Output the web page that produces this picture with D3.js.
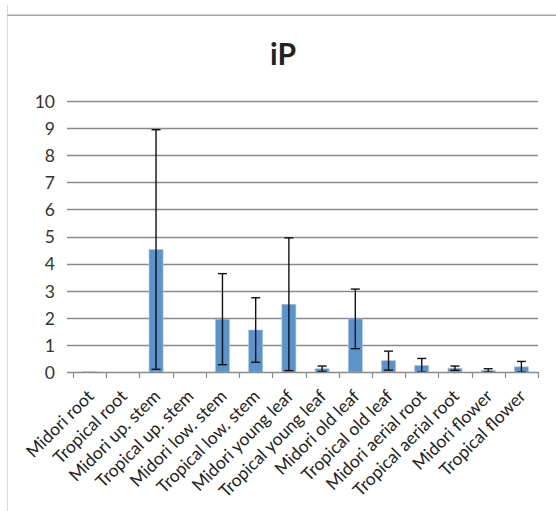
<!DOCTYPE html>
<html>
<head>
<meta charset="utf-8">
<script src="https://cdn.jsdelivr.net/npm/d3@7/dist/d3.min.js"></script>
<style>
  html, body { margin: 0; padding: 0; background: #fff; }
  svg { display: block; }
</style>
</head>
<body>
<svg id="chart" width="556" height="511"></svg>
<script>
// iP content per tissue, mean with symmetric error
const categories = [
  "Midori root", "Tropical root", "Midori up. stem", "Tropical up. stem",
  "Midori low. stem", "Tropical low. stem", "Midori young leaf", "Tropical young leaf",
  "Midori old leaf", "Tropical old leaf", "Midori aerial root", "Tropical aerial root",
  "Midori flower", "Tropical flower"
];
const values = [0.01, 0, 4.52, 0, 1.95, 1.55, 2.50, 0.12, 1.96, 0.42, 0.24, 0.14, 0.06, 0.19];
const errors = [0, 0, 4.42, 0, 1.68, 1.19, 2.45, 0.10, 1.10, 0.35, 0.26, 0.08, 0.06, 0.20];
const yTicks = [0, 1, 2, 3, 4, 5, 6, 7, 8, 9, 10];
const title = "iP";

const svg = d3.select("#chart");
const font = "Lato, 'Open Sans', 'Liberation Sans', sans-serif";

// chart frame
svg.append("line").attr("x1", 7.5).attr("x2", 7.5).attr("y1", 5).attr("y2", 511)
  .attr("stroke", "#d9d9d9").attr("stroke-width", 1);
svg.append("line").attr("x1", 7).attr("x2", 556).attr("y1", 14.5).attr("y2", 14.5)
  .attr("stroke", "#d0d0d0").attr("stroke-width", 1);
svg.append("line").attr("x1", 7).attr("x2", 556).attr("y1", 15.5).attr("y2", 15.5)
  .attr("stroke", "#a6a6a6").attr("stroke-width", 1);

const plotLeft = 73, plotRight = 538, plotTop = 101, plotBottom = 372;

const x = d3.scaleBand().domain(categories).range([plotLeft, plotRight]).paddingInner(0).paddingOuter(0);
const y = d3.scaleLinear().domain([0, 10]).range([plotBottom, plotTop]);

// title
svg.append("text").attr("x", 283).attr("y", 65).attr("text-anchor", "middle")
  .attr("font-family", font).attr("font-weight", "bold").attr("font-size", 30)
  .attr("fill", "#222").text(title);

// gridlines
svg.append("g").selectAll("line").data(yTicks.filter(d => d > 0)).join("line")
  .attr("x1", plotLeft - 6).attr("x2", plotRight)
  .attr("y1", d => Math.round(y(d)) + 0.5).attr("y2", d => Math.round(y(d)) + 0.5)
  .attr("stroke", "#8a8a8a").attr("stroke-width", 1.3);

// y axis labels
const yAxis = d3.axisLeft(y).tickValues(yTicks).tickSize(0).tickPadding(0).tickFormat(d3.format("d"));
const gy = svg.append("g").attr("transform", `translate(${plotLeft - 18},0)`).call(yAxis);
gy.select(".domain").remove();
gy.selectAll("text").attr("font-family", font).attr("font-size", 17.5).attr("fill", "#333")
  .attr("dy", "0.36em");

// bars
const barW = 14;
svg.append("g").selectAll("rect").data(categories).join("rect")
  .attr("x", d => x(d) + x.bandwidth() / 2 - barW / 2)
  .attr("y", (d, i) => y(values[i]))
  .attr("width", barW)
  .attr("height", (d, i) => y(0) - y(values[i]))
  .attr("fill", "#5b93cc")
  .attr("stroke", "#a9c6e6").attr("stroke-width", 0.6);

// error bars
const eg = svg.append("g").attr("stroke", "#111").attr("stroke-width", 1.4);
categories.forEach((c, i) => {
  if (errors[i] <= 0) return;
  const cx = x(c) + x.bandwidth() / 2;
  const hi = y(values[i] + errors[i]);
  const lo = y(Math.max(0, values[i] - errors[i]));
  eg.append("line").attr("x1", cx).attr("x2", cx).attr("y1", hi).attr("y2", lo);
  eg.append("line").attr("x1", cx - 4.5).attr("x2", cx + 4.5).attr("y1", hi).attr("y2", hi);
  eg.append("line").attr("x1", cx - 4.5).attr("x2", cx + 4.5).attr("y1", lo).attr("y2", lo);
});

// x axis
const gx = svg.append("g").attr("transform", `translate(0,${plotBottom})`);
gx.append("line").attr("x1", plotLeft - 6).attr("x2", plotRight).attr("y1", 0.5).attr("y2", 0.5)
  .attr("stroke", "#8a8a8a").attr("stroke-width", 1.4);
const bounds = categories.map(c => x(c)).concat([plotRight]);
gx.selectAll("line.tick").data(bounds).join("line").attr("class", "tick")
  .attr("x1", d => Math.round(d) + 0.5).attr("x2", d => Math.round(d) + 0.5)
  .attr("y1", 0).attr("y2", 6)
  .attr("stroke", "#8a8a8a").attr("stroke-width", 1.2);

// category labels, sized so "Midori root" spans about 87px
const probe = gx.append("text").attr("font-family", font).attr("font-size", 16).text(categories[0]);
const labelSize = 16 * 87 / probe.node().getComputedTextLength();
probe.remove();

gx.selectAll("text.cat").data(categories).join("text").attr("class", "cat")
  .attr("transform", d => `translate(${x(d) + x.bandwidth() / 2 + 1},${21}) rotate(-45)`)
  .attr("text-anchor", "end")
  .attr("dy", "0.35em")
  .attr("font-family", font).attr("font-size", labelSize).attr("fill", "#222")
  .text(d => d);
</script>
</body>
</html>
